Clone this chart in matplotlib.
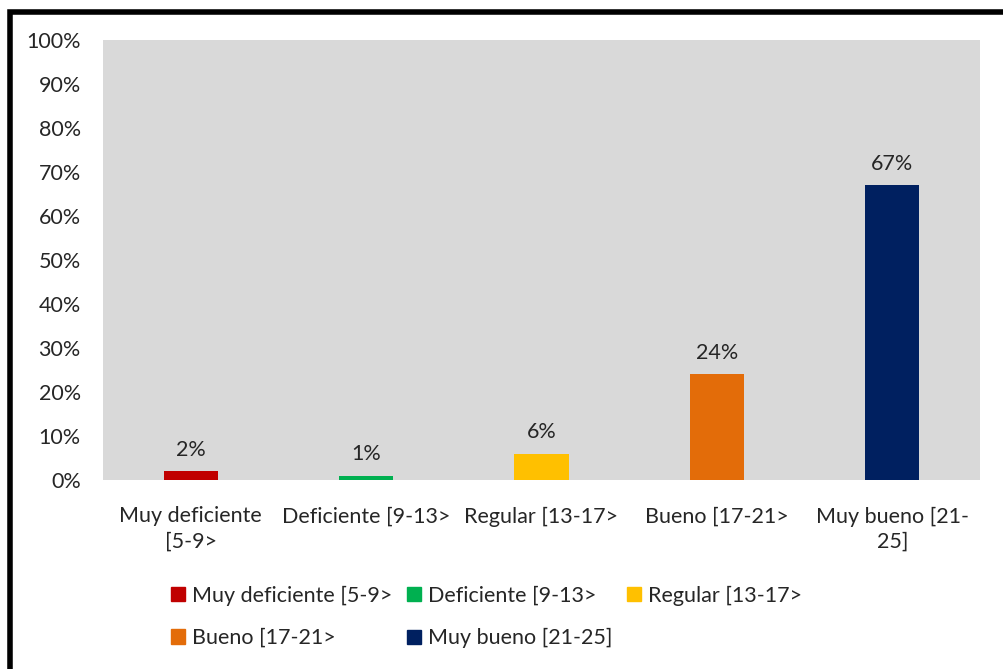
import matplotlib.pyplot as plt
from matplotlib.patches import Rectangle, Patch

categories = ['Muy deficiente\n[5-9>', 'Deficiente [9-13>', 'Regular [13-17>',
              'Bueno [17-21>', 'Muy bueno [21-\n25]']
legend_labels = ['Muy deficiente [5-9>', 'Deficiente [9-13>', 'Regular [13-17>',
                 'Bueno [17-21>', 'Muy bueno [21-25]']
values = [2, 1, 6, 24, 67]
colors = ['#C00000', '#00B050', '#FFC000', '#E36C09', '#002060']

plt.rcParams['font.family'] = ['Lato', 'DejaVu Sans']
txt = '#262626'
fs = 15.5

fig = plt.figure(figsize=(10.04, 6.69), dpi=100)
ax = fig.add_axes([103 / 1004, 1 - 480 / 669, 877 / 1004, 440 / 669])
ax.set_facecolor('#D9D9D9')

x = range(len(values))
bars = ax.bar(x, values, width=0.31, color=colors)
for i, v in enumerate(values):
    ax.annotate(f'{v}%', (i, v), xytext=(0, 8), textcoords='offset points',
                ha='center', va='bottom', fontsize=fs, color=txt)

ax.set_xlim(-0.5, 4.5)
ax.set_ylim(0, 100)
ax.set_yticks(range(0, 101, 10))
ax.set_yticklabels([f'{t}%' for t in range(0, 101, 10)])
ax.set_xticks(list(x))
ax.set_xticklabels(categories, linespacing=1.35)
ax.tick_params(length=0, labelsize=fs, labelcolor=txt)
ax.tick_params(axis='y', pad=16)
ax.tick_params(axis='x', pad=19)
for s in ax.spines.values():
    s.set_visible(False)

# row-wise order for a 3-column legend
order = [0, 3, 1, 4, 2]
handles = [Patch(color=colors[i]) for i in order]
fig.legend(handles, [legend_labels[i] for i in order], ncol=3,
           loc='upper left', bbox_to_anchor=(152 / 1004, 1 - 566 / 669),
           frameon=False, fontsize=fs, labelcolor=txt,
           handlelength=0.65, handleheight=0.65, handletextpad=0.3,
           columnspacing=0.7, labelspacing=1.05)

fig.patches.append(Rectangle((10 / 1004, -0.1), 1.2, 1.1 - 12 / 669,
                             transform=fig.transFigure, fill=False,
                             edgecolor='black', linewidth=4))

fig.savefig('out.png', dpi=100)
